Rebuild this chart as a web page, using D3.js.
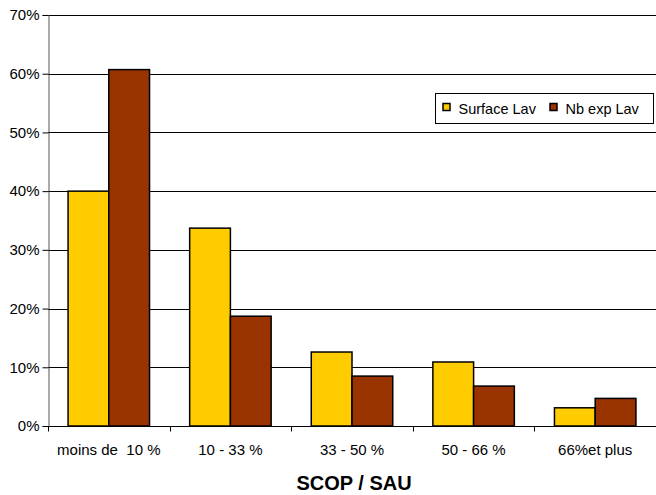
<!DOCTYPE html>
<html><head><meta charset="utf-8">
<script src="https://cdn.jsdelivr.net/npm/d3@7/dist/d3.min.js"></script>
<style>body{margin:0;background:#fff}svg{display:block}text{font-family:"Liberation Sans",Arial,sans-serif}</style>
</head><body><svg id="c" width="656" height="495"></svg>
<script>
const categories = ["moins de  10 %", "10 - 33 %", "33 - 50 %", "50 - 66 %", "66%et plus"];
const seriesNames = ["Surface Lav", "Nb exp Lav"];
const surfaceLav = [0.40, 0.337, 0.126, 0.109, 0.031];
const nbExpLav = [0.607, 0.187, 0.085, 0.068, 0.047];
const yTicks = [0, 0.1, 0.2, 0.3, 0.4, 0.5, 0.6, 0.7];
const colors = ["#FFCC00", "#993300"];

const svg = d3.select("#c");
const m = {l: 48, r: 0, t: 15, b: 69};
const W = 656, H = 495;
const x = d3.scaleBand().domain(categories).range([m.l, W - m.r]).paddingInner(0.33).paddingOuter(0.165);
const xOuter = d3.scaleBand().domain(categories).range([m.l, W - m.r]);
const x1 = d3.scaleBand().domain(seriesNames).range([0, x.bandwidth()]);
const y = d3.scaleLinear().domain([0, 0.7]).range([H - m.b, m.t]);

// gridlines
svg.append("g").selectAll("line").data(yTicks.filter(d => d > 0)).join("line")
  .attr("x1", m.l).attr("x2", W - m.r)
  .attr("y1", d => Math.round(y(d)) + 0.5).attr("y2", d => Math.round(y(d)) + 0.5)
  .attr("stroke", "#000").attr("stroke-width", 1);

// bars
const series = [surfaceLav, nbExpLav];
const g = svg.append("g");
series.forEach((vals, si) => {
  g.selectAll(".b" + si).data(vals).join("rect")
    .attr("x", (d, i) => x(categories[i]) + x1(seriesNames[si]))
    .attr("width", x1.bandwidth())
    .attr("y", d => y(d))
    .attr("height", d => y(0) - y(d))
    .attr("fill", colors[si]).attr("stroke", "#000").attr("stroke-width", 1.5);
});

// y axis
const ya = svg.append("g").attr("transform", `translate(${m.l + 0.5},0)`)
  .call(d3.axisLeft(y).tickValues(yTicks).tickFormat(d3.format(".0%")).tickSize(6).tickPadding(3));
ya.select(".domain").attr("stroke", "#555");
ya.selectAll("line").attr("stroke", "#000");
ya.selectAll("text").attr("font-size", 15).attr("fill", "#000");

// x axis
const xa = svg.append("g").attr("transform", `translate(0,${Math.round(y(0)) + 0.5})`);
xa.append("line").attr("x1", m.l).attr("x2", W - m.r).attr("stroke", "#000");
xa.selectAll(".tk").data(categories).join("line")
  .attr("x1", d => Math.round(xOuter(d)) + 0.5).attr("x2", d => Math.round(xOuter(d)) + 0.5)
  .attr("y1", 0).attr("y2", 5).attr("stroke", "#000");
xa.selectAll(".lb").data(categories).join("text")
  .attr("x", d => xOuter(d) + xOuter.bandwidth() / 2).attr("y", 28)
  .attr("text-anchor", "middle").attr("font-size", 15).attr("fill", "#000")
  .style("white-space", "pre").text(d => d);

// axis title
svg.append("text").attr("x", (m.l + W) / 2 + 2).attr("y", 490).attr("text-anchor", "middle")
  .attr("font-size", 20).attr("font-weight", "bold").text("SCOP / SAU");

// legend
const lg = svg.append("g");
lg.append("rect").attr("x", 435.5).attr("y", 93.5).attr("width", 218).attr("height", 30)
  .attr("fill", "#fff").attr("stroke", "#000");
const lx = [443, 550];
seriesNames.forEach((s, i) => {
  lg.append("rect").attr("x", lx[i]).attr("y", 103.5).attr("width", 7).attr("height", 7)
    .attr("fill", colors[i]).attr("stroke", "#000").attr("stroke-width", 1.5);
  lg.append("text").attr("x", lx[i] + 15.5).attr("y", 114).attr("font-size", 14.5).text(s);
});
</script></body></html>
